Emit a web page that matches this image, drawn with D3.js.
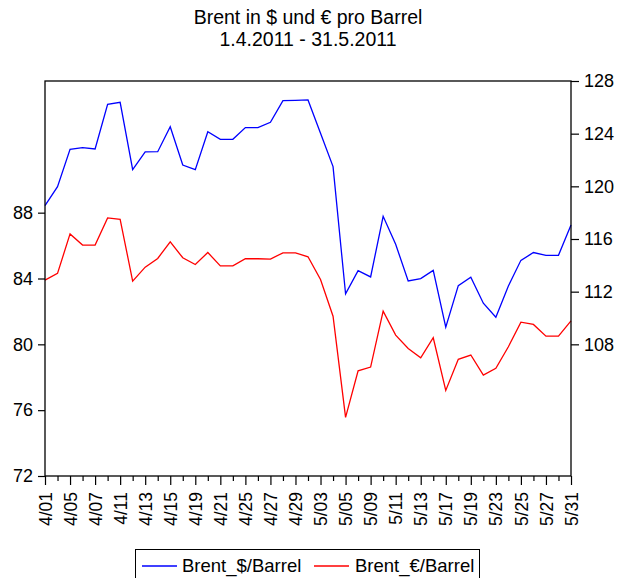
<!DOCTYPE html>
<html><head><meta charset="utf-8">
<script src="https://cdn.jsdelivr.net/npm/d3@7"></script>
<style>
html,body{margin:0;padding:0;background:#fff;}
svg{display:block;font-family:"Liberation Sans",Arial,sans-serif;}
</style></head>
<body><svg id="c" width="618" height="578"></svg>
<script>
const dates = ["4/01","4/04","4/05","4/06","4/07","4/08","4/11","4/12","4/13","4/14","4/15","4/18","4/19","4/20","4/21","4/22","4/25","4/26","4/27","4/28","4/29","5/02","5/03","5/04","5/05","5/06","5/09","5/10","5/11","5/12","5/13","5/16","5/17","5/18","5/19","5/20","5/23","5/24","5/25","5/26","5/27","5/30","5/31"];
const brentUSD = [118.53,119.98,122.81,122.94,122.84,126.23,126.38,121.27,122.61,122.63,124.53,121.62,121.27,124.15,123.57,123.57,124.46,124.46,124.86,126.51,126.53,126.56,124.03,121.5,111.83,113.6,113.12,117.72,115.6,112.81,112.99,113.62,109.3,112.46,113.1,111.12,110.06,112.43,114.38,114.97,114.76,114.76,117.07];
const brentEUR = [83.9,84.31,86.71,86.03,86.03,87.68,87.6,83.84,84.69,85.22,86.23,85.26,84.85,85.58,84.77,84.77,85.2,85.2,85.18,85.56,85.56,85.32,83.94,81.71,75.56,78.39,78.62,82.02,80.56,79.75,79.18,80.4,77.2,79.09,79.35,78.13,78.54,79.85,81.35,81.21,80.5,80.5,81.43];
const leftTicks = [72,76,80,84,88];
const rightTicks = [108,112,116,120,124,128];
const seriesNames = ["Brent_$/Barrel","Brent_\u20ac/Barrel"];
const titleLines = ["Brent in $ und \u20ac pro Barrel","1.4.2011 - 31.5.2011"];

const L=45,R=571,T=81,B=476;
const svg=d3.select("#c");
const x=d3.scalePoint().domain(dates).range([L,R]).padding(0);
const yL=d3.scaleLinear().domain([72,96]).range([B,T]);
const yR=d3.scaleLinear().domain([98,128]).range([B,T]);

// title
svg.append("g").selectAll("text").data(titleLines).join("text")
  .attr("x",(L+R)/2).attr("y",(d,i)=>24+i*22)
  .attr("text-anchor","middle").attr("font-size",19.5).attr("fill","#000").text(d=>d);

// lines
const lineR=d3.line().x((d,i)=>x(dates[i])).y(d=>yR(d));
const lineL=d3.line().x((d,i)=>x(dates[i])).y(d=>yL(d));
svg.append("path").datum(brentEUR).attr("d",lineL).attr("fill","none").attr("stroke","#ff0000").attr("stroke-width",1.3);
svg.append("path").datum(brentUSD).attr("d",lineR).attr("fill","none").attr("stroke","#0000ff").attr("stroke-width",1.3);

// frame
svg.append("rect").attr("x",L).attr("y",T).attr("width",R-L).attr("height",B-T)
  .attr("fill","none").attr("stroke","#000").attr("stroke-width",1.3);

// left axis
const gl=svg.append("g").attr("transform",`translate(${L},0)`)
  .call(d3.axisLeft(yL).tickValues(leftTicks).tickSize(7).tickPadding(5).tickFormat(d3.format("d")));
gl.select(".domain").remove();
gl.selectAll("text").attr("font-size",18).attr("font-family","Liberation Sans, Arial").attr("fill","#000");
gl.selectAll("line").attr("stroke","#000").attr("stroke-width",1.2);

// right axis
const gr=svg.append("g").attr("transform",`translate(${R},0)`)
  .call(d3.axisRight(yR).tickValues(rightTicks).tickSize(8).tickPadding(5).tickFormat(d3.format("d")));
gr.select(".domain").remove();
gr.selectAll("text").attr("font-size",18).attr("font-family","Liberation Sans, Arial").attr("fill","#000");
gr.selectAll("line").attr("stroke","#000").attr("stroke-width",1.2);

// bottom axis
const gb=svg.append("g").attr("transform",`translate(0,${B})`)
  .call(d3.axisBottom(x).tickValues(dates).tickSize(9).tickFormat((d,i)=>i%2===0?d:""));
gb.select(".domain").remove();
gb.selectAll(".tick line").attr("stroke","#000").attr("stroke-width",1.2)
  .attr("y2",(d,i)=>i%2===0?9:5);
gb.selectAll(".tick text").attr("font-size",17.5).attr("font-family","Liberation Sans, Arial").attr("fill","#000")
  .attr("transform","rotate(-90)").attr("text-anchor","end")
  .attr("x",-16).attr("y",0).attr("dy","0.35em");

// legend
const lg=svg.append("g");
lg.append("rect").attr("x",135.5).attr("y",549.5).attr("width",344).attr("height",40)
  .attr("fill","#fff").attr("stroke","#000").attr("stroke-width",1);
const legItems=[{name:seriesNames[0],color:"#0000ff",x0:142,x1:177,tx:182},{name:seriesNames[1],color:"#ff0000",x0:314,x1:349,tx:355}];
legItems.forEach(it=>{
  lg.append("line").attr("x1",it.x0).attr("x2",it.x1).attr("y1",566).attr("y2",566).attr("stroke",it.color).attr("stroke-width",1.3);
  lg.append("text").attr("x",it.tx).attr("y",572).attr("font-size",18.5).attr("fill","#000").text(it.name);
});
</script></body></html>
